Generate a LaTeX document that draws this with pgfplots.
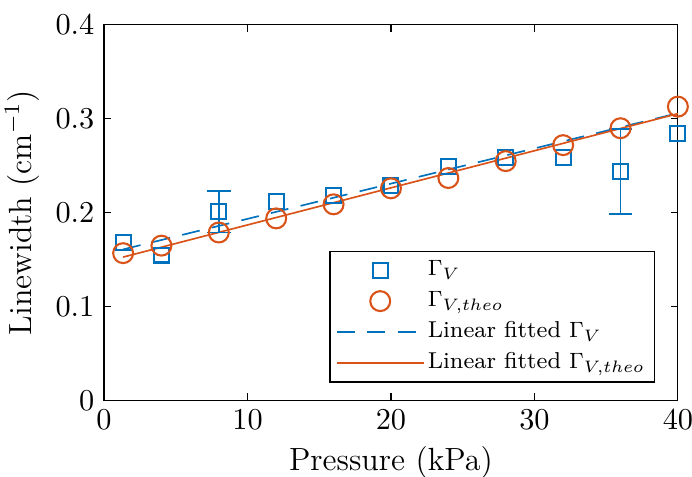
\documentclass[border=0pt]{standalone}
\usepackage{pgfplots}
\pgfplotsset{compat=1.18}
\usetikzlibrary{calc}

\definecolor{mblue}{rgb}{0,0.447,0.741}
\definecolor{morange}{rgb}{0.850,0.325,0.098}

\begin{document}
\begin{tikzpicture}
\begin{axis}[
  scale only axis,
  width=207.4pt, height=135.8pt,
  xmin=0, xmax=40, ymin=0, ymax=0.4,
  xtick={0,10,20,30,40},
  ytick={0,0.1,0.2,0.3,0.4},
  yticklabel style={/pgf/number format/fixed,/pgf/number format/precision=1},
  tick align=inside,
  major tick length=2.6pt,
  tick style={black, line width=0.4pt},
  axis line style={black, line width=0.4pt},
  tick label style={font=\fontsize{10.6}{12}\selectfont},
  xlabel={Pressure (kPa)},
  ylabel={Linewidth (cm$^{-1}$)},
  label style={font=\fontsize{11.6}{14}\selectfont},
  xlabel style={yshift=1pt},
  ylabel style={yshift=-1pt},
  legend cell align=left,
  legend style={
    at={(0.96,0.048)}, anchor=south east,
    font=\fontsize{8.3}{10}\selectfont,
    draw=black, line width=0.4pt,
    inner xsep=2.2pt, inner ysep=1.25pt,
    nodes={inner xsep=1.3pt, inner ysep=1.6pt, text height=6pt, text depth=2pt},
  },
  legend image code/.code={%
    \draw[mark repeat=2,mark phase=2,#1]
      plot coordinates {(0cm,0cm) (0.55cm,0cm) (1.1cm,0cm)};},
]

% measured linewidth
\addplot[only marks, mark=square, mark size=2.7pt, mblue, line width=0.75pt]
  coordinates {
  (1.33,0.168) (4,0.155) (8,0.201) (12,0.212) (16,0.218) (20,0.229)
  (24,0.249) (28,0.259) (32,0.259) (36,0.244) (40,0.284)
};
\addlegendentry{$\Gamma_V$}

% theoretical linewidth
\addplot[only marks, mark=o, mark size=3.6pt, morange, line width=0.75pt]
  coordinates {
  (1.33,0.157) (4,0.165) (8,0.179) (12,0.194) (16,0.209) (20,0.226)
  (24,0.237) (28,0.255) (32,0.272) (36,0.290) (40,0.313)
};
\addlegendentry{$\Gamma_{V,theo}$}

% linear fits
\addplot[mblue, line width=0.6pt, dash pattern=on 6.5pt off 4.5pt]
  coordinates {(1.33,0.161) (40,0.306)};
\addlegendentry{Linear fitted $\Gamma_V$}

\addplot[morange, line width=0.6pt]
  coordinates {(1.33,0.1528) (40,0.3055)};
\addlegendentry{Linear fitted $\Gamma_{V,theo}$}

% error bars of the measured points
\addplot[forget plot, draw=none, mblue, line width=0.6pt,
  error bars/.cd, y dir=both, y explicit,
  error bar style={mblue, line width=0.6pt},
  error mark options={rotate=90, mark size=4.3pt, mblue, line width=0.6pt}]
  coordinates {
  (8,0.201) +- (0,0.022)
  (36,0.244) +- (0,0.0455)
};

\end{axis}
\pgfresetboundingbox
\path[use as bounding box]
  ($(current axis.south west)+(-37.6pt,-27.5pt)$) rectangle
  ($(current axis.north east)+(5.1pt,9.0pt)$);
\end{tikzpicture}
\end{document}
